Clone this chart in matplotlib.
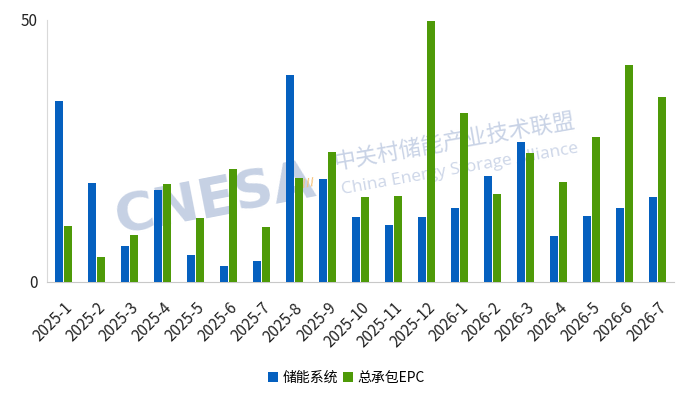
import matplotlib.pyplot as plt
import numpy as np

plt.rcParams['font.family'] = ['Noto Sans CJK SC', 'DejaVu Sans']

months = ['2025-1', '2025-2', '2025-3', '2025-4', '2025-5', '2025-6', '2025-7',
          '2025-8', '2025-9', '2025-10', '2025-11', '2025-12', '2026-1', '2026-2',
          '2026-3', '2026-4', '2026-5', '2026-6', '2026-7']
storage_system = [34.4, 18.8, 6.8, 17.5, 5.1, 3.0, 3.9, 39.4, 19.6, 12.3, 10.8,
                  12.3, 14.0, 20.1, 26.6, 8.7, 12.5, 14.0, 16.1]
epc = [10.6, 4.7, 8.9, 18.6, 12.1, 21.5, 10.4, 19.8, 24.7, 16.1, 16.3,
       49.8, 32.2, 16.7, 24.5, 19.0, 27.6, 41.3, 35.2]

blue = '#0560BF'
green = '#4E9A08'

fig = plt.figure(figsize=(6.93, 4.04), dpi=100)
ax = fig.add_axes([0.0678, 0.3032, 0.9048, 0.6485])

x = np.arange(len(months))
ax.bar(x - 0.145, storage_system, width=0.24, color=blue, label='储能系统', zorder=3)
ax.bar(x + 0.145, epc, width=0.24, color=green, label='总承包EPC', zorder=3)

ax.set_xlim(-0.5, len(months) - 0.5)
ax.set_ylim(0, 50)
ax.set_yticks([0, 50])
ax.set_yticklabels(['0', '50'], fontsize=11, color='#222222')
ax.set_xticks(x)
ax.set_xticklabels(months, rotation=45, ha='right', va='top', rotation_mode='anchor',
                   fontsize=11, color='#222222')
ax.tick_params(axis='both', length=0)
ax.tick_params(axis='x', pad=13)
ax.tick_params(axis='y', pad=7)

for side in ['top', 'right']:
    ax.spines[side].set_visible(False)
ax.spines['left'].set_color('#d9d9d9')
ax.spines['bottom'].set_color('#c8c8c8')

# watermark, kept behind the bars
tf = fig.transFigure
ax.text(0.310, 0.505, 'CNESA', transform=tf, fontsize=39, fontweight='bold',
        color='#c6d1e4', rotation=11, ha='center', va='center', zorder=1,
        family='DejaVu Sans')
ax.text(0.442, 0.545, '////', transform=tf, fontsize=8, fontweight='bold',
        color='#f5c27a', rotation=11, ha='center', va='center', zorder=1,
        family='DejaVu Sans')
ax.text(0.657, 0.648, '中关村储能产业技术联盟', transform=tf, fontsize=16,
        color='#c9d3e6', rotation=10, ha='center', va='center', zorder=1)
ax.text(0.663, 0.582, 'China Energy Storage Alliance', transform=tf, fontsize=12.5,
        color='#cdd6e8', rotation=10, ha='center', va='center', zorder=1,
        family='Open Sans')

fig.legend(loc='center', bbox_to_anchor=(0.5, 0.064), ncol=2, frameon=False,
           fontsize=10, handlelength=0.7, handleheight=0.7, handletextpad=0.3,
           columnspacing=0.4)

fig.savefig('out.png', dpi=100)
